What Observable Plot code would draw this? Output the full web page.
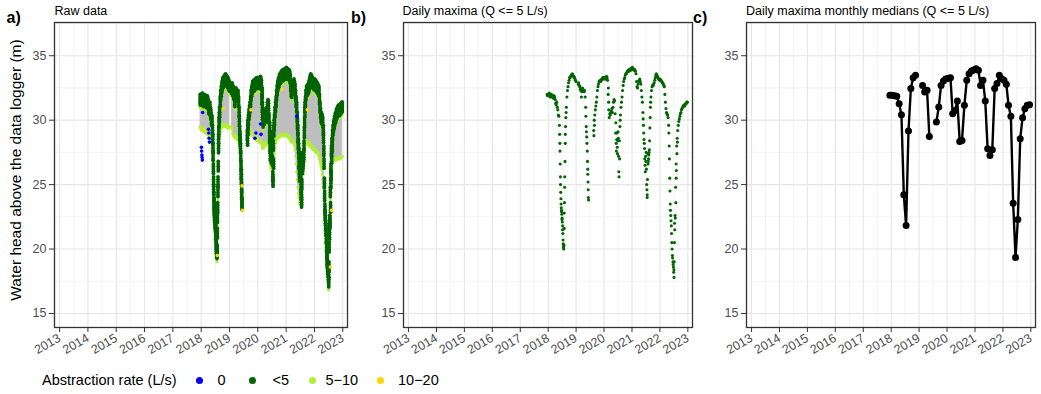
<!DOCTYPE html>
<html><head><meta charset="utf-8">
<script src="https://cdn.jsdelivr.net/npm/d3@7"></script>
<script src="https://cdn.jsdelivr.net/npm/@observablehq/plot@0.6"></script>
<style>
body{margin:0;background:#fff;font-family:"Liberation Sans",Arial,sans-serif;}
#wrap{position:relative;width:1041px;height:394px;overflow:hidden;background:#fff;}
.panel{position:absolute;top:0;}
.title{position:absolute;font-size:12.5px;line-height:1;color:#000;white-space:nowrap;}
.tag{position:absolute;font-size:16px;line-height:1;font-weight:bold;color:#000;}
.ylab{position:absolute;width:320px;text-align:center;font-size:15.5px;line-height:18px;color:#000;transform:rotate(-90deg);white-space:pre;}
.leg{position:absolute;font-size:14.5px;line-height:1;color:#000;white-space:nowrap;}
.ldot{position:absolute;width:7px;height:7px;border-radius:50%;}
g[aria-label$="tick label"]{fill:#4d4d4d;}
</style></head><body><div id="wrap"></div>
<script>
// ---------- data ----------
const tickYears = [2013,2014,2015,2016,2017,2018,2019,2020,2021,2022,2023];
const yTicks = [15,20,25,30,35];
const weekStart = "2017-12-18"; // weekly sampling of the series below

// daily maxima (Q <= 5 L/s), one value per week (null = no data)
const bMax = [
 32.0,31.9,
 32.0,31.9,32.1,31.9,31.8, 31.9,32.0,31.8,31.9, 31.9,31.7,31.9,31.8, 31.6,31.3,31.2,31.4,31.0,
 30.8,30.4,30.3,29.6, 27.6,25.0,23.5,22.9, 22.4,21.8,20.4,20.0,22.8, 25.6,28.9,30.2,31.0,
 31.8,32.3,32.6,32.9, 33.1,33.3,33.3,33.4,33.5, 33.5,33.6,33.5,33.4, 33.4,33.3,33.2,33.1,33.0,
 null,null,null,32.8, 32.9,32.7,32.6,32.4, 32.3,31.8,32.2,32.5, 32.4,32.3,32.2,32.3,31.8,
 31.0,29.5,28.7,27.6, 25.8,24.0,null,null, null,null,null,null,null, null,null,29.2,30.0,
 30.4,30.8,31.1,31.4,31.8, 32.3,32.6,32.8,33.0, 33.0,33.1,33.0,33.1, 33.2,33.2,33.3,33.2,33.3,
 33.3,33.2,33.3,33.2, 33.4,33.3,33.1,32.0, 30.8,30.2,30.5,30.4,30.6, 30.7,30.9,30.6,31.0,
 31.4,31.6,31.5,30.5, 29.0,28.2,28.5,27.9,28.4, 28.6,26.0,28.4,29.5, 30.4,31.0,31.4,31.8,32.3,
 32.7,33.0,33.2,33.3, 33.5,33.6,33.6,33.7, 33.8,33.8,33.9,33.8,33.9, 33.9,34.0,33.9,34.0,
 34.1,34.0,34.0,33.9, 33.9,33.9,33.8,33.6, 33.0,32.6,32.5,32.8,33.0, 33.1,33.2,33.0,32.8,
 32.3,31.8,31.4,30.6,29.6, 28.5,27.8,26.5,27.2, 27.5,25.0,24.2,27.4, 26.8,27.3,27.7,29.4,31.0,
 31.8,32.3,32.6,32.7, 32.7,32.8,32.9,33.1, 33.3,33.5,33.6,33.5,33.4, 33.3,33.2,33.2,33.1,
 33.2,33.1,33.1,33.0,32.9, 32.9,32.8,32.7,32.6, 32.0,31.4,30.9,30.6, 30.5,30.4,30.2,29.6,
 28.0,25.5,23.5,22.6,21.8, 20.5,19.5,19.0,18.6, 17.8,22.0,22.6,24.8, 26.6,28.0,28.6,29.2,29.6,
 29.9,30.1,30.3,30.5, 30.6,30.8,30.9,31.0,31.1, 31.1,31.2,31.1,31.2, 31.3,31.3,31.4,31.4
];
// additional daily maxima read in the fast-changing periods (drawdowns)
const extraDates = [
 "2018-05-31","2018-06-03","2018-06-07","2018-06-10","2018-06-14","2018-06-17","2018-06-21","2018-06-24","2018-06-28","2018-07-01",
 "2018-07-05","2018-07-08","2018-07-12","2018-07-15","2018-07-19","2018-07-22","2018-07-26","2018-07-29","2018-08-02","2018-08-05",
 "2018-08-09","2018-08-12","2018-08-16","2018-08-23",
 "2019-05-09","2019-05-16","2019-05-23","2019-05-30","2019-06-02","2019-06-06","2019-06-08","2019-06-13","2019-08-22","2019-08-29",
 "2020-02-27","2020-03-01","2020-06-04","2020-06-11","2020-06-18","2020-06-25","2020-07-02","2020-07-09","2020-07-16","2020-07-23","2020-07-30",
 "2021-05-27","2021-06-03","2021-06-10","2021-06-17","2021-06-24","2021-07-01","2021-07-08","2021-07-15","2021-07-18","2021-07-22",
 "2021-07-29","2021-08-05","2021-08-12","2021-08-19","2021-08-26","2021-09-02",
 "2022-04-28","2022-05-05","2022-05-12","2022-05-19","2022-05-26","2022-06-02","2022-06-09","2022-06-16","2022-06-23","2022-06-30",
 "2022-07-03","2022-07-07","2022-07-10","2022-07-14","2022-07-21","2022-07-28","2022-08-01","2022-08-04","2022-08-11","2022-08-18"];
const extraValues = [
 28.9,28.2,26.6,25.6,24.4,23.9,23.2,23.0,22.7,22.3,
 22.1,21.5,21.2,20.7,20.2,20.1,20.3,21.6,23.6,24.8,
 26.8,28.2,29.5,30.6,
 30.3,29.1,28.2,26.8,26.2,25.2,24.6,23.8,28.8,29.6,
 32.5,31.4,29.8,27.6,29.0,27.4,29.1,27.2,25.6,27.0,30.0,
 30.1,29.0,28.2,27.0,26.0,26.8,26.2,24.6,24.0,25.4,
 26.6,27.0,27.5,28.4,30.2,31.4,
 29.0,27.0,24.5,23.0,22.2,21.2,20.0,19.3,18.8,18.2,
 18.4,19.0,20.5,21.5,22.4,23.6,25.5,26.1,27.4,28.3];
// raw data: lower edge of the recorded head (pumping levels), one value per week
const aLow = [
 29.5,29.4,
 29.3,29.2,29.4,29.3,29.2, 29.1,29.3,29.2,29.0, 29.2,29.0,29.1,28.9, 29.0,28.8,28.9,28.7,28.6,
 28.4,28.2,27.8,27.0, 25.5,23.6,22.3,21.4, 20.8,20.2,19.6,19.5,21.0, 23.8,26.5,28.0,28.6,
 29.0,29.2,29.4,29.5, 29.6,29.5,29.6,29.7,29.5, 29.6,29.7,29.6,29.5, 29.4,29.6,29.5,29.4,29.5,
 null,null,null,29.5, 29.3,29.0,28.9,28.8, 28.7,28.8,28.6,28.7, 28.6,28.5,28.7,28.5,28.4,
 28.2,27.6,26.6,25.4, 24.0,23.0,null,null, null,null,null,null,null, null,null,28.6,28.8,
 28.9,29.0,29.1,29.0,29.2, 29.0,29.1,28.9,28.8, 28.7,28.8,28.6,28.7, 28.6,28.5,28.6,28.4,28.5,
 28.5,28.4,28.3,28.4, 28.3,28.4,28.2,28.0, 27.8,27.9,28.0,27.9,28.1, 28.2,28.1,28.3,28.2,
 28.3,28.2,28.0,27.6, 27.0,26.6,26.4,26.2,26.5, 26.4,25.4,25.8,26.6, 27.4,27.9,28.2,28.4,28.5,
 28.6,28.7,28.6,28.7, 28.8,28.7,28.8,28.9, 28.8,28.9,28.8,28.9,28.8, 28.9,28.8,28.9,28.8,
 28.8,28.9,28.7,28.8, 28.7,28.8,28.6,28.5, 28.4,28.3,28.4,28.5,28.4, 28.3,28.2,28.0,27.7,
 27.2,26.6,26.0,25.4,24.8, 24.3,24.0,23.6,23.5, 23.8,23.5,23.6,24.5, 25.2,25.8,26.4,27.2,27.8,
 28.1,28.3,28.4,28.3, 28.2,28.3,28.1,28.2, 28.0,28.1,27.9,28.0,27.9, 27.8,27.9,27.7,27.8,
 27.7,27.6,27.7,27.5,27.6, 27.5,27.4,27.3,27.2, 27.0,26.8,26.6,26.4, 26.2,25.8,25.4,24.8,
 24.0,23.0,22.0,21.2,20.4, 19.6,18.8,18.2,17.8, 17.4,18.6,20.6,22.6, 24.4,25.6,26.4,26.8,27.0,
 27.0,26.9,27.0,26.9, 27.0,26.9,27.0,27.1,27.0, 27.1,27.0,27.1,27.0, 27.1,27.2,27.1,27.2
];
// raw data points with abstraction rate 0 L/s
const blueDates = ["2018-01-04","2018-01-07","2018-01-10","2018-01-13","2018-01-16","2018-01-20","2018-04-05","2018-04-09","2018-04-13","2018-04-17","2019-11-25","2019-12-08","2020-02-06","2020-02-12","2021-05-18"];
const blueValues = [27.9,27.6,27.3,27.1,26.9,30.6,29.3,29.0,28.6,28.3,28.6,29.0,29.7,28.9,30.3];
// raw data points with abstraction rate 10-20 L/s
const goldDates = ["2018-02-12","2018-07-28","2018-10-15","2019-06-12","2019-06-18","2019-10-05","2020-11-08","2021-09-30","2022-07-25","2022-08-10"];
const goldValues = [29.2,19.5,30.9,24.9,23.0,30.8,32.4,30.8,18.6,23.0];
// daily maxima monthly medians
const cMonths = ["2017-12","2018-01","2018-02","2018-03","2018-04","2018-05","2018-06","2018-07","2018-08","2018-09","2018-10","2018-11","2018-12",
 "2019-01","2019-02","2019-03","2019-04","2019-05","2019-06","2019-07","2019-08","2019-09","2019-10","2019-11","2019-12",
 "2020-01","2020-02","2020-03","2020-04","2020-05","2020-06","2020-07","2020-08","2020-09","2020-10","2020-11","2020-12",
 "2021-01","2021-02","2021-03","2021-04","2021-05","2021-06","2021-07","2021-08","2021-09","2021-10","2021-11","2021-12",
 "2022-01","2022-02","2022-03","2022-04","2022-05","2022-06","2022-07","2022-08","2022-09","2022-10","2022-11","2022-12"];
const cMedian = [31.93,31.93,31.90,31.85,31.28,30.43,24.21,21.82,29.15,32.45,33.30,33.48,null,
 null,32.70,32.19,32.32,28.74,null,null,29.85,31.02,32.70,33.04,33.20,
 33.25,33.30,30.50,30.76,31.49,28.35,28.43,31.15,33.10,33.60,33.82,33.90,
 34.00,33.87,32.70,33.10,31.49,27.78,27.26,27.70,32.45,32.84,33.48,33.22,
 33.10,32.78,31.15,30.30,23.55,19.35,22.29,28.56,30.19,30.89,31.15,31.20];

const legendLabels = ["0","<5","5\u221210","10\u221220"];
const legendColors = ["#0000FF","#006400","#B3EE3A","#FFD700"];
const [BLUE, DARK, LIGHT, GOLD] = legendColors;

// ---------- tables ----------
const t0 = new Date(weekStart + "T00:00:00Z");
const weeks = bMax.map((v, i) => ({date: d3.utcDay.offset(t0, 7 * i), high: v, low: aLow[i]}));
const extra = extraDates.map((d, i) => ({date: new Date(d + "T00:00:00Z"), high: extraValues[i]}));
const daily = weeks.concat(extra);
const blue = blueDates.map((d, i) => ({date: new Date(d + "T00:00:00Z"), v: blueValues[i]}));
const gold = goldDates.map((d, i) => ({date: new Date(d + "T00:00:00Z"), v: goldValues[i]}));
const months = cMonths.map((m, i) => ({date: new Date(m + "-15T00:00:00Z"), v: cMedian[i]}));

// ---------- scales / frame ----------
const xDomain = [new Date(Date.UTC(2012, 9, 27)), new Date(Date.UTC(2023, 2, 3))];
const yDomain = [13.91, 37.58];
const yearDates = tickYears.map(y => new Date(Date.UTC(y, 0, 1)));
const minorX = tickYears.slice(0, -1).map(y => new Date(Date.UTC(y, 6, 2)));
const minorY = yTicks.map(v => v + 2.5);

function panel(marks, o) {
  return Plot.plot({
    width: o.width, height: 360,
    marginLeft: o.ml, marginRight: o.mr, marginTop: 22, marginBottom: 33,
    x: {type: "utc", domain: xDomain},
    y: {domain: yDomain},
    style: {fontFamily: "'Liberation Sans', Arial, sans-serif", color: "#333", background: "white", overflow: "visible"},
    marks: [
      Plot.ruleX(minorX, {stroke: "#EBEBEB", strokeWidth: 0.6}),
      Plot.ruleY(minorY, {stroke: "#EBEBEB", strokeWidth: 0.6}),
      Plot.ruleX(yearDates, {stroke: "#E6E6E6", strokeWidth: 1.1}),
      Plot.ruleY(yTicks, {stroke: "#E6E6E6", strokeWidth: 1.1}),
      ...marks,
      Plot.frame({stroke: "#333", strokeWidth: 1.3}),
      Plot.axisX({ticks: yearDates, tickFormat: d3.utcFormat("%Y"), tickSize: 5, tickPadding: 4.5, tickRotate: -30, fontSize: 12.5, label: null, textStroke: "none"}),
      Plot.axisY({ticks: yTicks, tickSize: 5, tickPadding: 3, fontSize: 12.5, label: null})
    ]
  });
}

const wrap = document.getElementById("wrap");
function place(node, left) { node.classList.add("panel"); node.style.left = left + "px"; wrap.appendChild(node); }

const darkLayers = [0, 2.5, 5, 7.5, 9.5].map(dy => Plot.dot(daily, {x: "date", y: "high", r: 1.9, dy, fill: DARK}));
place(panel([
  Plot.areaY(weeks, {x: "date", y1: "low", y2: "high", fill: "#BEBEBE"}),
  Plot.dot(weeks, {x: "date", y: "low", r: 1.6, fill: LIGHT}),
  Plot.dot(weeks, {x: "date", y: "high", r: 1.6, dy: 12.5, fill: LIGHT}),
  ...darkLayers,
  Plot.dot(gold, {x: "date", y: "v", r: 1.8, fill: GOLD}),
  Plot.dot(blue, {x: "date", y: "v", r: 1.8, fill: BLUE})
], {width: 350, ml: 54, mr: 3}), 0);

place(panel([
  Plot.dot(daily, {x: "date", y: "high", r: 1.55, fill: DARK})
], {width: 345, ml: 53, mr: 3}), 350);

place(panel([
  Plot.line(months, {x: "date", y: "v", stroke: "black", strokeWidth: 2.4}),
  Plot.dot(months, {x: "date", y: "v", r: 3.5, fill: "black"})
], {width: 346, ml: 51, mr: 6}), 695);

// ---------- text ----------
function div(cls, text, left, top) {
  const d = document.createElement("div");
  d.className = cls; d.textContent = text;
  d.style.left = left + "px"; d.style.top = top + "px";
  wrap.appendChild(d); return d;
}
div("tag", "a)", 6.5, 10);
div("tag", "b)", 351, 10);
div("tag", "c)", 693, 10);
div("title", "Raw data", 54.5, 5.4);
div("title", "Daily maxima (Q <= 5 L/s)", 402.5, 5.4);
div("title", "Daily maxima monthly medians (Q <= 5 L/s)", 746, 5.4);
div("ylab", "Water head above the data logger (m)", 15.5 - 160, 170 - 9);

// legend
div("leg", "Abstraction rate (L/s)", 42, 373);
const dotX = [199, 252, 312, 380];
const labX = [217.5, 272.5, 325.5, 398];
legendLabels.forEach((lab, i) => {
  const d = document.createElement("div");
  d.className = "ldot"; d.style.background = legendColors[i];
  d.style.left = (dotX[i] - 3.5) + "px"; d.style.top = (380 - 3.5) + "px";
  wrap.appendChild(d);
  div("leg", lab, labX[i], 373);
});
</script></body></html>
